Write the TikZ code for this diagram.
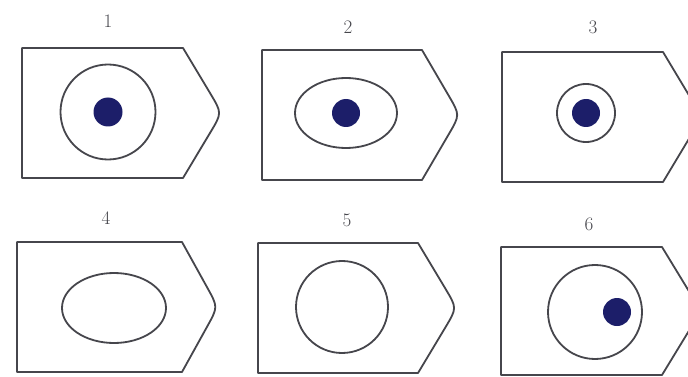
\documentclass[tikz,border=0pt]{standalone}
\usetikzlibrary{calc}
\definecolor{outl}{RGB}{70,70,76}
\definecolor{dotc}{RGB}{28,30,105}
\tikzset{
  outline/.style={draw=outl, line width=1.8pt, line join=round},
  ring/.style={draw=outl, line width=1.8pt},
  nucleus/.style={fill=dotc},
  numlabel/.style={font=\fontsize{19}{21}\selectfont, text=outl, inner sep=0pt}
}
\newcommand\tagshape[5]{%
  \coordinate (tip) at (#5,{(#2+#3)/2});
  \draw[outline] (#1,#2) -- (#4,#2) -- ($(#4,#2)!0.7!(tip)$)
    .. controls (tip) .. ($(#4,#3)!0.7!(tip)$) -- (#4,#3) -- (#1,#3) -- cycle;}
\begin{document}
\begin{tikzpicture}[x=0.35mm,y=-0.35mm]
\useasboundingbox (0,0) rectangle (688,377);
\clip (0,0) rectangle (688,377);
% panel 1
\tagshape{22}{48}{178}{183}{222}
\draw[ring] (108,112) circle (47.5);
\fill[nucleus] (108,112) circle (14.5);
\node[numlabel] (l1) at (108,21) {1};
% panel 2
\tagshape{262}{50}{180}{422}{460}
\draw[ring] (346,113) ellipse (51 and 35);
\fill[nucleus] (346,113) circle (14);
\node[numlabel] (l2) at (348,27) {2};
% panel 3
\tagshape{502}{52}{182}{663}{702}
\draw[ring] (586,113) circle (29);
\fill[nucleus] (586,113) circle (14);
\node[numlabel] (l3) at (593,27) {3};
% panel 4
\tagshape{17}{242}{372}{182}{218}
\draw[ring] (114,308) ellipse (52 and 35);
\node[numlabel] (l4) at (106,218) {4};
% panel 5
\tagshape{258}{243}{373}{418}{457}
\draw[ring] (342,307) circle (46);
\node[numlabel] (l5) at (347,220) {5};
% panel 6
\tagshape{501}{247}{375}{662}{701}
\draw[ring] (595,312) circle (47);
\fill[nucleus] (617,312) circle (14);
\node[numlabel] (l6) at (589,224) {6};
\end{tikzpicture}
\end{document}
